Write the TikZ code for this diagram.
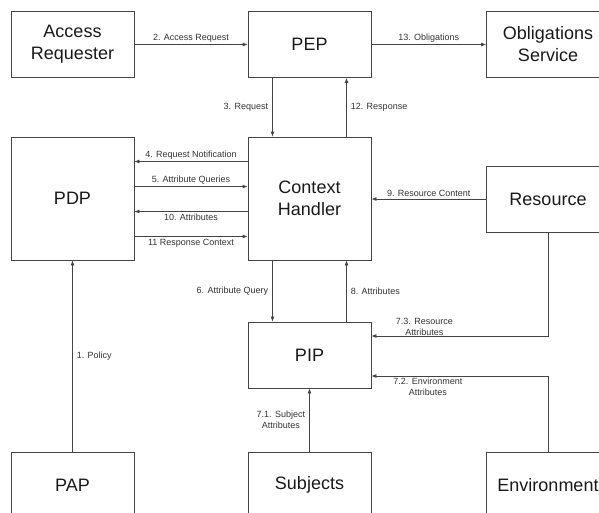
\documentclass[tikz,border=0pt]{standalone}
\usepackage{fontspec}
\setmainfont{Liberation Sans}
\usetikzlibrary{arrows.meta}
\definecolor{xacmlline}{HTML}{444444}
\definecolor{xacmltext}{HTML}{333333}

\begin{document}
\begin{tikzpicture}[x=1pt, y=-1pt,
    comp/.style={rectangle, draw=xacmlline, line width=0.8pt, minimum width=123pt, minimum height=66pt,
        align=center, font=\fontsize{18}{22}\selectfont, text=black!90},
    flow/.style={-{Latex[length=5pt,width=4pt]}, draw=xacmlline, line width=0.8pt},
    lbl/.style={font=\fontsize{9}{11}\selectfont, text=xacmltext, inner sep=2pt}]
            \clip (0,0) rectangle (599,512);

            % Top row
            \node[comp] (ar) at (72.5,44.5) {Access\\Requester};
            \node[comp] (pep) at (309.5,44.5) {PEP};
            \node[comp] (obl) at (548,44.5) {Obligations\\Service};

            % Middle row
            \node[comp, minimum height=123pt] (pdp) at (72.5,198.5) {PDP};
            \node[comp, minimum height=123pt] (ch) at (309.5,198.5) {Context\\Handler};
            \node[comp] (res) at (548,199) {Resource};
            \node[comp] (pip) at (309.5,355) {PIP};

            % Bottom row
            \node[comp] (pap) at (72.5,485) {PAP};
            \node[comp] (subj) at (309.5,485) {Subjects};
            \node[comp] (env) at (548,485) {Environment};

            \draw[flow] (ar) -- node[lbl, above] {2. Access Request} (pep);
            \draw[flow] (pep) -- node[lbl, above] {13. Obligations} (obl);
            \draw[flow] ([xshift=-37pt]pep.south) -- node[lbl, left, inner sep=4pt] {3. Request} ([xshift=-37pt]ch.north);
            \draw[flow] ([xshift=37pt]ch.north) -- node[lbl, right, inner sep=4pt] {12. Response} ([xshift=37pt]pep.south);

            % PDP <-> context handler
            \draw[flow] ([yshift=37pt]ch.west) -- node[lbl, above] {4. Request Notification} ([yshift=37pt]pdp.east);
            \draw[flow] ([yshift=12pt]pdp.east) -- node[lbl, above] {5. Attribute Queries} ([yshift=12pt]ch.west);
            \draw[flow] ([yshift=-13pt]ch.west) -- node[lbl, below] {10. Attributes} ([yshift=-13pt]pdp.east);
            \draw[flow] ([yshift=-38pt]pdp.east) -- node[lbl, below] {11 Response Context} ([yshift=-38pt]ch.west);
            \draw[flow] (res.west) -- node[lbl, above] {9. Resource Content} (res.west -| ch.east);

            % Attributes
            \draw[flow] ([xshift=-37pt]ch.south) -- node[lbl, left, inner sep=4pt] {6. Attribute Query} ([xshift=-37pt]pip.north);
            \draw[flow] ([xshift=37pt]pip.north) -- node[lbl, right, inner sep=4pt] {8. Attributes} ([xshift=37pt]ch.south);
            \draw[flow] (res.south) |- node[lbl, above, pos=0.85, align=center, inner sep=0.5pt] {7.3. Resource\\Attributes} ([yshift=19pt]pip.east);
            \draw[flow] (env.north) |- node[lbl, below, pos=0.84, align=center] {7.2. Environment\\Attributes} ([yshift=-21pt]pip.east);
            \draw[flow] (subj) -- node[lbl, left, align=center, inner sep=4pt] {7.1. Subject\\Attributes} (pip);
            \draw[flow] (pap) -- node[lbl, right, inner sep=4pt] {1. Policy} (pdp);
        \end{tikzpicture}
\end{document}
